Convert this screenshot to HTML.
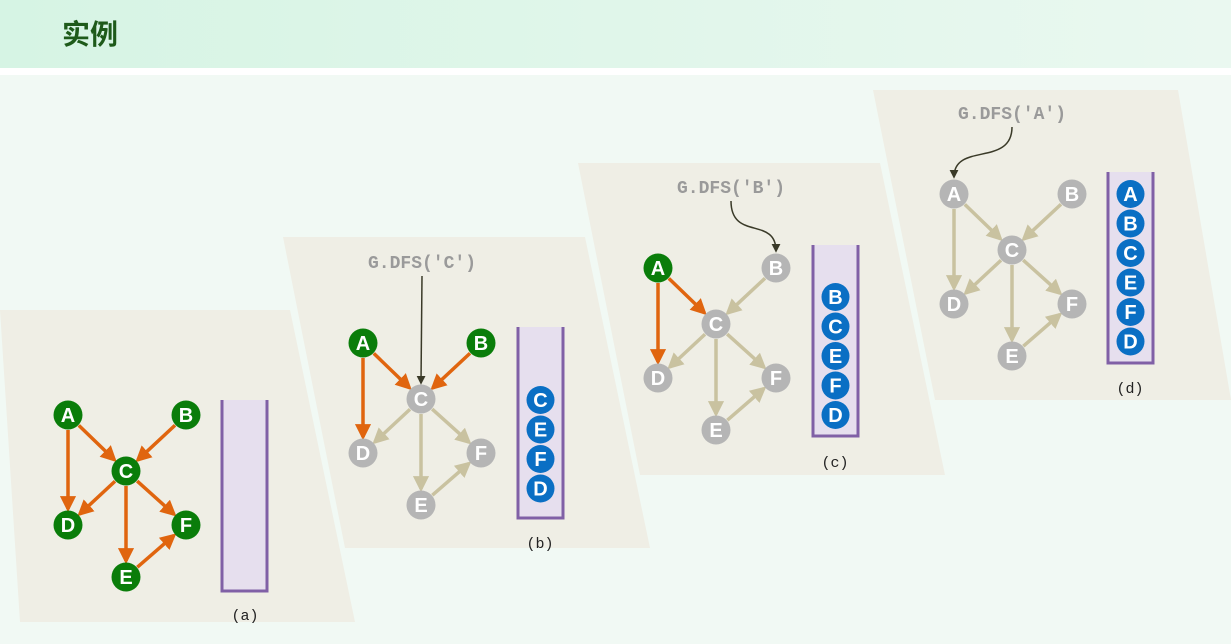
<!DOCTYPE html>
<html><head><meta charset="utf-8"><style>
html,body{margin:0;padding:0;width:1231px;height:644px;overflow:hidden;background:#f1f9f4;}
svg{display:block}
</style></head><body>
<svg id="s" width="1231" height="644" xmlns="http://www.w3.org/2000/svg">
<defs>
<linearGradient id="hg" x1="0" x2="1"><stop offset="0" stop-color="#d6f4e4"/><stop offset="1" stop-color="#eaf8f0"/></linearGradient>
<marker id="mo" viewBox="0 0 10 10" refX="8" refY="5" markerWidth="4.6" markerHeight="4.6" orient="auto"><path d="M0,0L10,5L0,10z" fill="#e0650f"/></marker>
<marker id="mt" viewBox="0 0 10 10" refX="8" refY="5" markerWidth="4.6" markerHeight="4.6" orient="auto"><path d="M0,0L10,5L0,10z" fill="#c9c2a0"/></marker>
<marker id="md" viewBox="0 0 10 10" refX="8" refY="5" markerWidth="6" markerHeight="6" orient="auto"><path d="M0,0L10,5L0,10z" fill="#3a3a28"/></marker>
</defs>
<rect x="0" y="0" width="1231" height="68" fill="url(#hg)"/>
<rect x="0" y="68" width="1231" height="7" fill="#ffffff"/>
<text x="62" y="44" font-family="'Liberation Sans','Noto Sans CJK SC',sans-serif" font-size="28" font-weight="bold" fill="#1e5a1a">实例</text>
<g id="g"></g>
</svg>
<script>
const NS='http://www.w3.org/2000/svg';
const g=document.getElementById('g');
const nodes=['A','B','C','D','E','F'];
const rel={A:[0,0],B:[118,0],C:[58,56],D:[0,110],E:[58,162],F:[118,110]};
const edges=[['A','C'],['B','C'],['A','D'],['C','D'],['C','E'],['C','F'],['E','F']];
const panels=[
 {id:'a',poly:'0,310 290,310 355,622 20,622',ox:68,oy:415,green:['A','B','C','D','E','F'],orange:7,stackX:222,stackY:400,stack:[],firstY:0,label:'(a)',lx:245,ly:620},
 {id:'b',poly:'283,237 585,237 650,548 345,548',ox:363,oy:343,green:['A','B'],orange:['A-C','B-C','A-D'],stackX:518,stackY:327,stack:['C','E','F','D'],firstY:400,label:'(b)',lx:540,ly:548,call:"G.DFS('C')",tx:422,ty:268,target:'C'},
 {id:'c',poly:'578,163 880,163 945,475 640,475',ox:658,oy:268,green:['A'],orange:['A-C','A-D'],stackX:813,stackY:245,stack:['B','C','E','F','D'],firstY:297,label:'(c)',lx:835,ly:467,call:"G.DFS('B')",tx:731,ty:193,target:'B'},
 {id:'d',poly:'873,90 1178,90 1231,400 935,400',ox:954,oy:194,green:[],orange:[],stackX:1108,stackY:172,stack:['A','B','C','E','F','D'],firstY:194,label:'(d)',lx:1130,ly:393,call:"G.DFS('A')",tx:1012,ty:119,target:'A'}
];
function el(t,a,p){const e=document.createElementNS(NS,t);for(const k in a)e.setAttribute(k,a[k]);(p||g).appendChild(e);return e;}
panels.forEach(P=>{
 const pg=el('g',{});
 
 
 el('polygon',{points:P.poly,fill:'#efeee5'},pg);
 const pos=n=>[P.ox+rel[n][0],P.oy+rel[n][1]];
 edges.forEach(([u,v])=>{
  const [x1,y1]=pos(u),[x2,y2]=pos(v);
  const dx=x2-x1,dy=y2-y1,L=Math.hypot(dx,dy),r=15;
  const or=P.orange===7||P.orange.includes(u+'-'+v);
  const ln=el('line',{x1:x1+dx/L*r,y1:y1+dy/L*r,x2:x2-dx/L*(r+1),y2:y2-dy/L*(r+1),stroke:or?'#e0650f':'#c9c2a0','stroke-width':3.5,'marker-end':or?'url(#mo)':'url(#mt)'},pg);
  
  
 });
 nodes.forEach(n=>{
  const [x,y]=pos(n);const gr=P.green.includes(n);
  const c=el('circle',{cx:x,cy:y,r:14.5,fill:gr?'#0a7d0a':'#b5b5b5'},pg);
  
  
  const t=el('text',{x:x,y:y+7,'text-anchor':'middle','font-family':'Liberation Sans,sans-serif','font-size':20,'font-weight':'bold',fill:'#fff'},pg);t.textContent=n;
 });
 const sx=P.stackX,sy=P.stackY,h=191,w=45;
 el('rect',{x:sx,y:sy,width:w,height:h,fill:'#e6dfee'},pg);
 const sp=el('path',{d:`M${sx},${sy}V${sy+h}H${sx+w}V${sy}`,fill:'none',stroke:'#8060a6','stroke-width':3},pg);
 
 
 P.stack.forEach((s,i)=>{
  const cy=P.firstY+i*29.5;
  const c=el('circle',{cx:sx+w/2,cy:cy,r:14,fill:'#0a6fc4'},pg);
  
  
  const t=el('text',{x:sx+w/2,y:cy+7,'text-anchor':'middle','font-family':'Liberation Sans,sans-serif','font-size':20,'font-weight':'bold',fill:'#fff'},pg);t.textContent=s;
 });
 const lb=el('text',{x:P.lx,y:P.ly,'text-anchor':'middle','font-family':'Liberation Mono,monospace','font-size':15,fill:'#222'},pg);lb.textContent=P.label;
 
 
 if(P.call){
  const ct=el('text',{x:P.tx,y:P.ty,'text-anchor':'middle','font-family':'Liberation Mono,monospace','font-size':18,'font-weight':'bold',fill:'#9a9a9a'},pg);ct.textContent=P.call;
  
  
  const [x,y]=pos(P.target);let d;
  if(P.id==='b')d=`M${P.tx},${P.ty+8}L${x},${y-16}`;
  else{const x0=P.tx,y0=P.ty+8;d=`M${x0},${y0}C${x0},${y0+40} ${x},${y0+15} ${x},${y-17}`;}
  const ap=el('path',{d:d,fill:'none',stroke:'#3a3a28','stroke-width':1.5,'marker-end':'url(#md)'},pg);
  
  
 }
});
</script>
</body></html>
